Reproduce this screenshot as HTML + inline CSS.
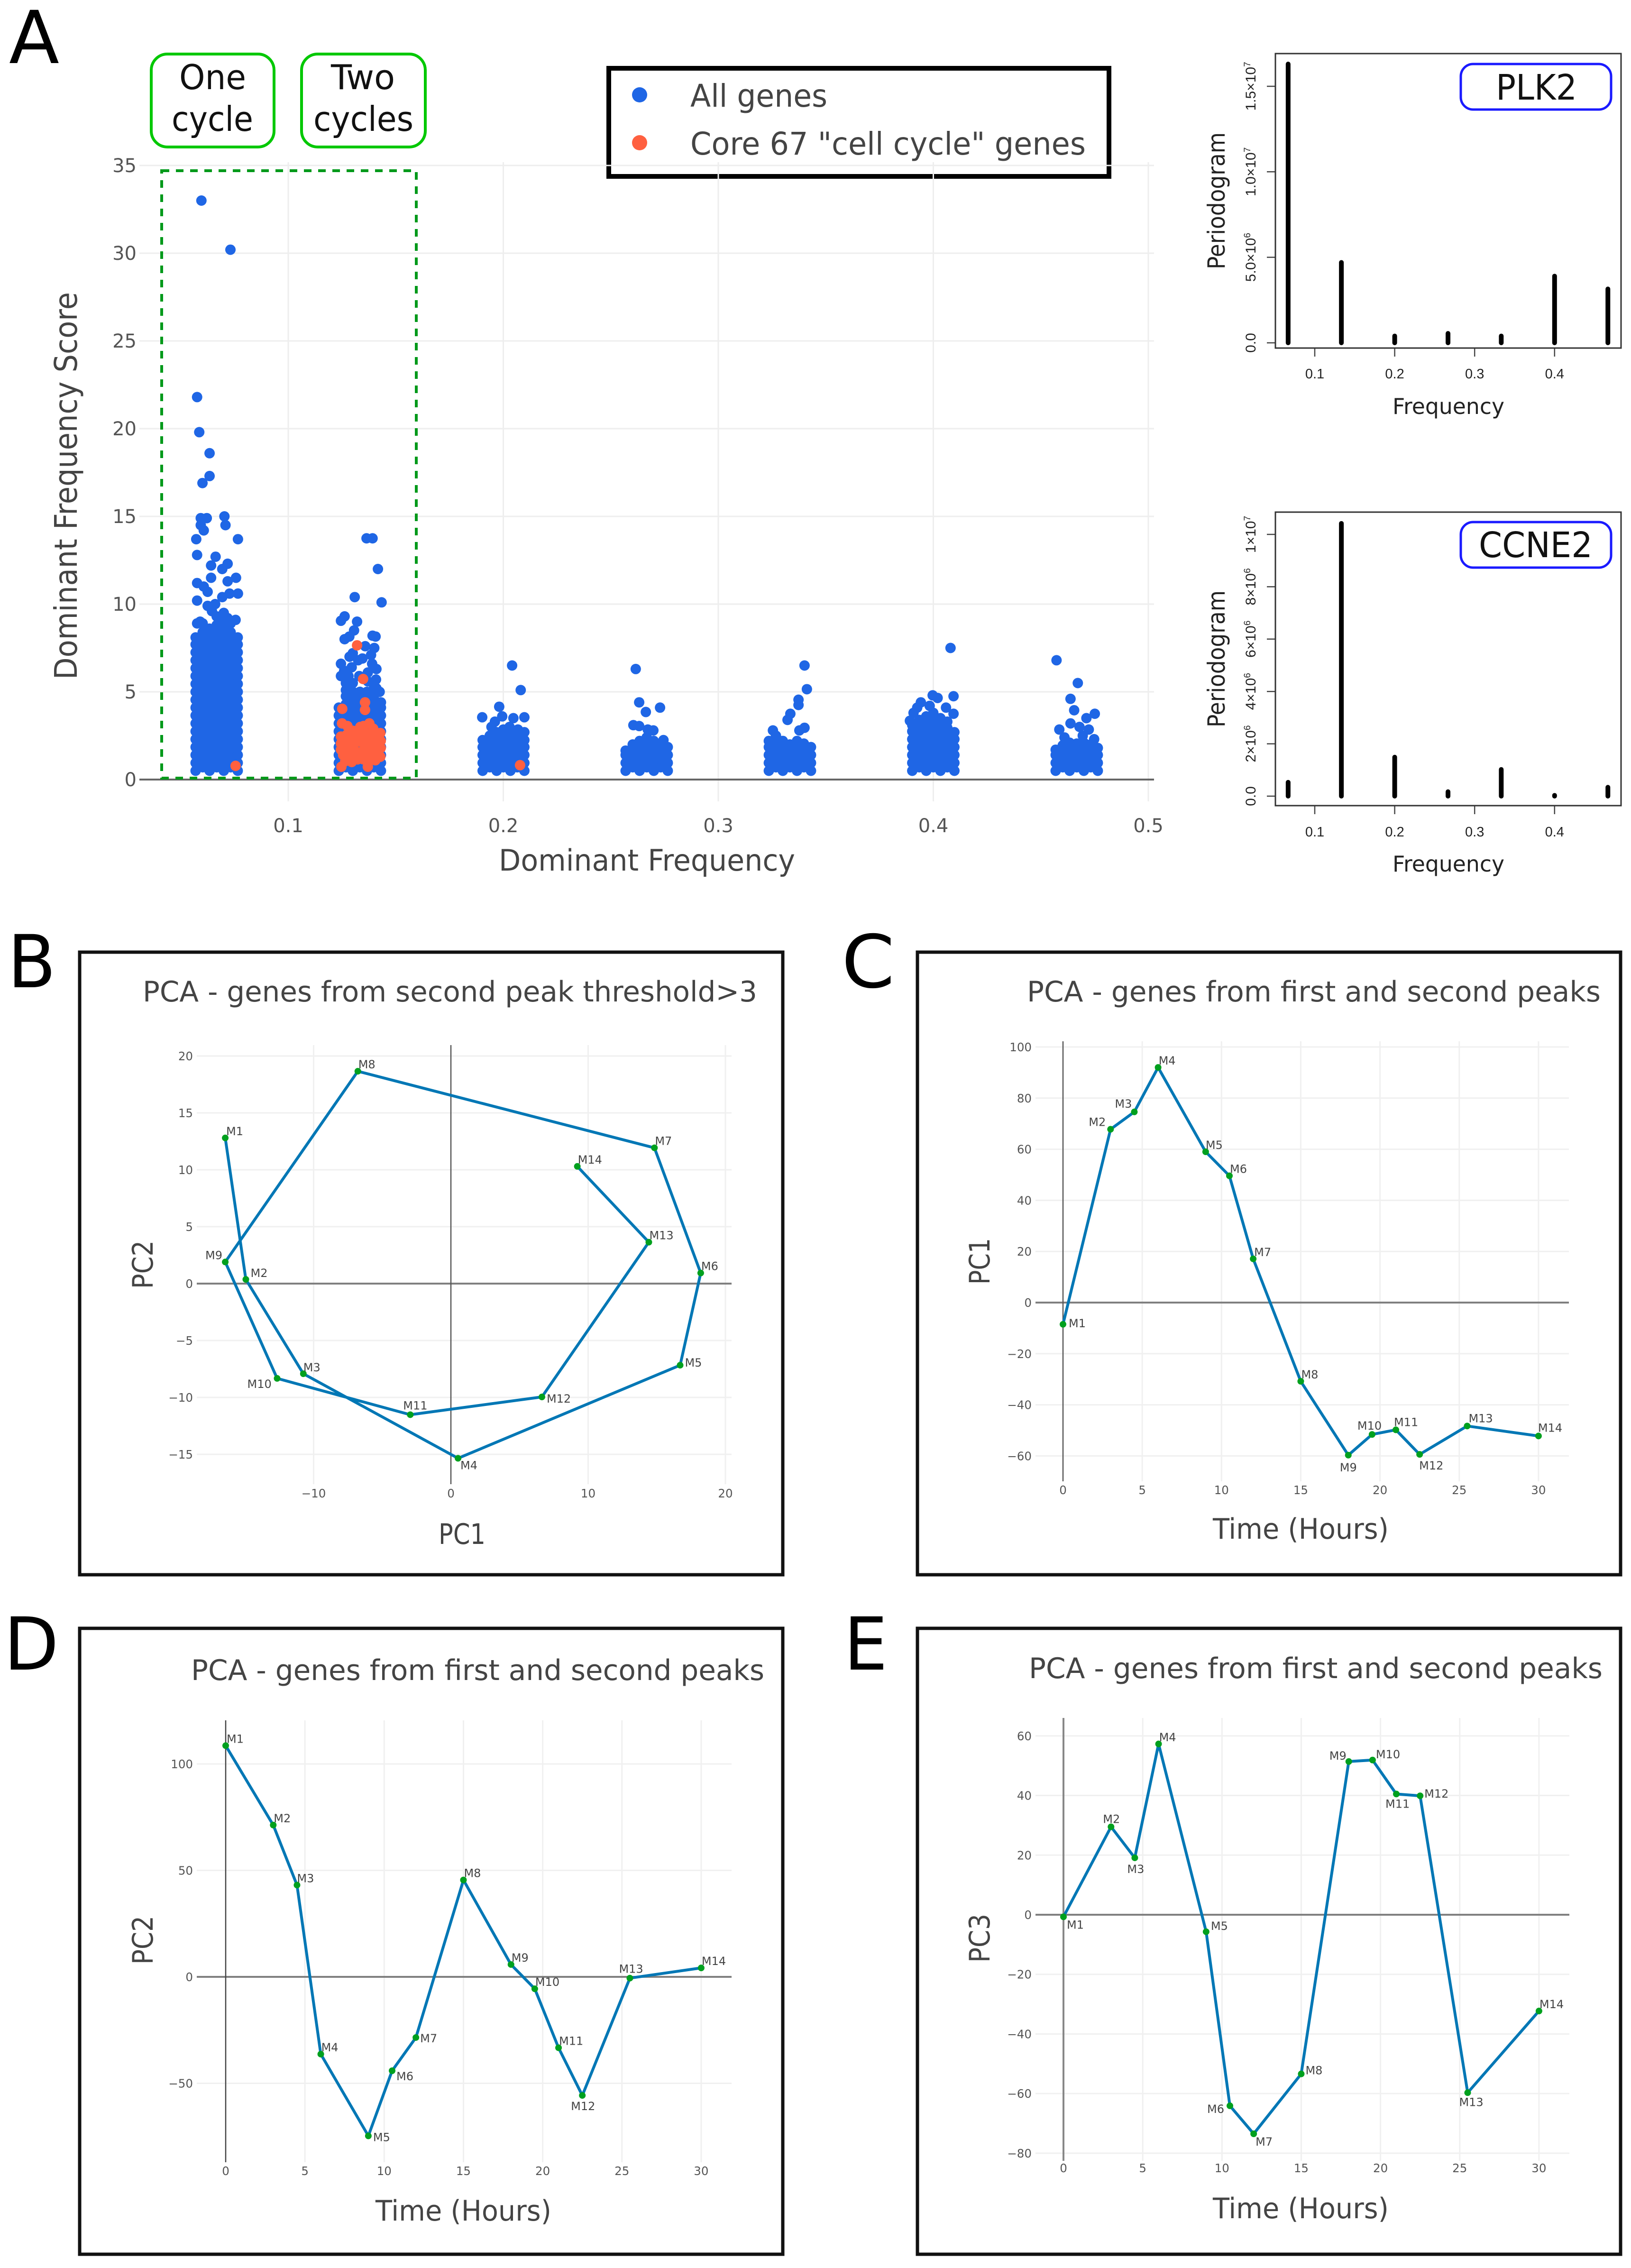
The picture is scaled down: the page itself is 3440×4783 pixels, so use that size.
<!DOCTYPE html>
<html lang="en">
<head>
<meta charset="utf-8">
<title>Dominant frequency and PCA figure</title>
<style>
html,body{margin:0;padding:0;background:#fff;}
svg{display:block;}
text{font-family:"DejaVu Sans","Liberation Sans",sans-serif;}
.tick{font-family:"DejaVu Sans",sans-serif;font-size:24.5px;fill:#555;}
.tick-a{font-family:"DejaVu Sans",sans-serif;font-size:40px;fill:#555;}
.pt{font-family:"DejaVu Sans",sans-serif;font-size:24px;fill:#444;}
.rtick{font-family:"Liberation Sans",sans-serif;font-size:30px;fill:#222;}
.ptick{font-family:"Liberation Sans",sans-serif;font-size:29px;fill:#222;}
.title{font-size:60px;fill:#444;}
.axt{font-size:60px;fill:#444;}
.letter{font-size:154px;fill:#000;}
</style>
</head>
<body>
<svg id="fig" xmlns="http://www.w3.org/2000/svg" width="3440" height="4783" viewBox="0 0 3440 4783">
<rect x="0" y="0" width="3440" height="4783" fill="#fff"/>

<!-- PANEL A -->
<text class="letter" x="19" y="133" textLength="106" lengthAdjust="spacingAndGlyphs">A</text>
<g>
<rect x="1284" y="144" width="1055" height="228" fill="#fff" stroke="#000" stroke-width="10"/>
<circle cx="1349" cy="200" r="16" fill="#1f66e5"/>
<text x="1456" y="225" font-size="66" fill="#444" textLength="289" lengthAdjust="spacingAndGlyphs">All genes</text>
<circle cx="1349" cy="301" r="16" fill="#ff6040"/>
<text x="1456" y="326" font-size="66" fill="#444" textLength="834" lengthAdjust="spacingAndGlyphs">Core 67 "cell cycle" genes</text>
</g>
<g id="a-grid"></g>
<g id="a-points"></g>
<rect x="341" y="360" width="537" height="1281" fill="none" stroke="#00991a" stroke-width="6" stroke-dasharray="16 14"/>
<g id="a-ticks"></g>
<text x="1052" y="1836" font-size="62" fill="#444" textLength="625" lengthAdjust="spacingAndGlyphs">Dominant Frequency</text>
<text transform="translate(162,1433) rotate(-90)" font-size="66" fill="#444" textLength="817" lengthAdjust="spacingAndGlyphs">Dominant Frequency Score</text>

<g>
<rect x="319" y="114" width="259" height="196" rx="34" fill="#fff" stroke="#00c800" stroke-width="6"/>
<text x="378" y="188" font-size="72" fill="#111" textLength="141" lengthAdjust="spacingAndGlyphs">One</text>
<text x="362" y="276" font-size="72" fill="#111" textLength="172" lengthAdjust="spacingAndGlyphs">cycle</text>
</g>
<g>
<rect x="636" y="114" width="261" height="196" rx="34" fill="#fff" stroke="#00c800" stroke-width="6"/>
<text x="698" y="188" font-size="72" fill="#111" textLength="135" lengthAdjust="spacingAndGlyphs">Two</text>
<text x="661" y="276" font-size="72" fill="#111" textLength="211" lengthAdjust="spacingAndGlyphs">cycles</text>
</g>

<!-- PERIODOGRAMS -->
<g id="plk2"></g>
<g id="ccne2"></g>
<rect x="2690" y="113" width="729" height="621" fill="none" stroke="#333" stroke-width="3"/>
<rect x="2690" y="1080" width="729" height="619" fill="none" stroke="#333" stroke-width="3"/>
<g>
<rect x="3081" y="135" width="317" height="96" rx="26" fill="#fff" stroke="#1a1aff" stroke-width="5"/>
<text x="3155" y="210" font-size="74" fill="#111" textLength="171" lengthAdjust="spacingAndGlyphs">PLK2</text>
</g>
<g>
<rect x="3081" y="1101" width="317" height="96" rx="26" fill="#fff" stroke="#1a1aff" stroke-width="5"/>
<text x="3119" y="1175" font-size="74" fill="#111" textLength="240" lengthAdjust="spacingAndGlyphs">CCNE2</text>
</g>
<text x="2937" y="873" font-size="46" fill="#222" textLength="236" lengthAdjust="spacingAndGlyphs">Frequency</text>
<text transform="translate(2583,568) rotate(-90)" font-size="50" fill="#222" textLength="289" lengthAdjust="spacingAndGlyphs">Periodogram</text>
<text x="2937" y="1838" font-size="46" fill="#222" textLength="236" lengthAdjust="spacingAndGlyphs">Frequency</text>
<text transform="translate(2583,1534) rotate(-90)" font-size="50" fill="#222" textLength="289" lengthAdjust="spacingAndGlyphs">Periodogram</text>

<!-- PANEL B -->
<text class="letter" x="16" y="2082" textLength="102" lengthAdjust="spacingAndGlyphs">B</text>
<rect x="168" y="2008" width="1483" height="1313" fill="#fff" stroke="#111" stroke-width="7"/>
<text class="title" x="301" y="2112" textLength="1296" lengthAdjust="spacingAndGlyphs">PCA - genes from second peak threshold&gt;3</text>
<g id="panel-b"></g>
<text class="axt" x="925" y="3256" textLength="99" lengthAdjust="spacingAndGlyphs">PC1</text>
<text class="axt" transform="translate(322,2718) rotate(-90)" textLength="102" lengthAdjust="spacingAndGlyphs">PC2</text>

<!-- PANEL C -->
<text class="letter" x="1775" y="2082" textLength="112" lengthAdjust="spacingAndGlyphs">C</text>
<rect x="1935" y="2008" width="1483" height="1313" fill="#fff" stroke="#111" stroke-width="7"/>
<text class="title" x="2166" y="2112" textLength="1210" lengthAdjust="spacingAndGlyphs">PCA - genes from first and second peaks</text>
<g id="panel-c"></g>
<text class="axt" x="2558" y="3245" textLength="371" lengthAdjust="spacingAndGlyphs">Time (Hours)</text>
<text class="axt" transform="translate(2087,2709) rotate(-90)" textLength="98" lengthAdjust="spacingAndGlyphs">PC1</text>

<!-- PANEL D -->
<text class="letter" x="8" y="3521" textLength="116" lengthAdjust="spacingAndGlyphs">D</text>
<rect x="168" y="3434" width="1483" height="1320" fill="#fff" stroke="#111" stroke-width="7"/>
<text class="title" x="403" y="3543" textLength="1209" lengthAdjust="spacingAndGlyphs">PCA - genes from first and second peaks</text>
<g id="panel-d"></g>
<text class="axt" x="792" y="4683" textLength="371" lengthAdjust="spacingAndGlyphs">Time (Hours)</text>
<text class="axt" transform="translate(322,4143) rotate(-90)" textLength="103" lengthAdjust="spacingAndGlyphs">PC2</text>

<!-- PANEL E -->
<text class="letter" x="1780" y="3521" textLength="92" lengthAdjust="spacingAndGlyphs">E</text>
<rect x="1935" y="3434" width="1483" height="1320" fill="#fff" stroke="#111" stroke-width="7"/>
<text class="title" x="2170" y="3539" textLength="1210" lengthAdjust="spacingAndGlyphs">PCA - genes from first and second peaks</text>
<g id="panel-e"></g>
<text class="axt" x="2558" y="4678" textLength="371" lengthAdjust="spacingAndGlyphs">Time (Hours)</text>
<text class="axt" transform="translate(2087,4139) rotate(-90)" textLength="103" lengthAdjust="spacingAndGlyphs">PC3</text>
</svg>

<script>
/* ---------- Panel A data ---------- */
const scatterXTicks = [0.1, 0.2, 0.3, 0.4, 0.5];
const scatterYTicks = [0, 5, 10, 15, 20, 25, 30, 35];

const peak1Columns = [.0569, .0602, .0634, .0667, .0700, .0732, .0765];
const peak1Scores = [
  [.5,.95,1.4,1.85,2.3,2.75,3.2,3.65,4.1,4.55,5,5.45,5.9,6.35,6.8,7.25,7.7,8.1],
  [.7,1.15,1.6,2.05,2.5,2.95,3.4,3.85,4.3,4.75,5.2,5.65,6.1,6.55,7,7.45,7.9,8.4,8.9],
  [.5,.95,1.4,1.85,2.3,2.75,3.2,3.65,4.1,4.55,5,5.45,5.9,6.35,6.8,7.25,7.7,8.15,8.6],
  [.7,1.15,1.6,2.05,2.5,2.95,3.4,3.85,4.3,4.75,5.2,5.65,6.1,6.55,7,7.45,7.9,8.35,8.8,9.3],
  [.5,.95,1.4,1.85,2.3,2.75,3.2,3.65,4.1,4.55,5,5.45,5.9,6.35,6.8,7.25,7.7,8.15,8.6,9.0],
  [.7,1.15,1.6,2.05,2.5,2.95,3.4,3.85,4.3,4.75,5.2,5.65,6.1,6.55,7,7.45,7.9,8.4,8.9],
  [.5,.95,1.4,1.85,2.3,2.75,3.2,3.65,4.1,4.55,5,5.45,5.9,6.35,6.8,7.25,7.7,8.1]
];
const peak1Outliers = [[.0596,33.0],[.0731,30.2],[.0576,21.8],[.0586,19.8],[.0634,18.6],[.0634,17.3],[.0601,16.9],[.0703,15.0],[.0593,14.9],[.0621,14.9],[.0708,14.5],[.0593,14.5],[.0607,14.2],[.0572,13.7],[.0766,13.7],[.0576,12.8],[.0662,12.7],[.0641,12.2],[.0718,12.3],[.0693,12.0],[.0757,11.5],[.0641,11.5],[.0718,11.3],[.0576,11.2],[.0607,11.0],[.0625,10.7],[.0727,10.6],[.0766,10.6],[.0576,10.2],[.066,10.0],[.0693,10.4],[.0625,9.9],[.0645,9.6],[.0700,9.5],[.0718,9.2],[.0576,8.9],[.0590,9.0],[.0755,9.1]];

const peak2Columns = [.1235, .1268, .1300, .1333, .1366, .1398, .1431];
const peak2Scores = [
  [.5,.95,1.4,1.85,2.3,2.75,3.2,3.65,4.1],
  [.7,1.15,1.6,2.05,2.5,2.95,3.4,3.85,4.3,4.75,5.1,5.5],
  [.5,.95,1.4,1.85,2.3,2.75,3.2,3.65,4.1,4.55,5],
  [.7,1.15,1.6,2.05,2.5,2.95,3.4,3.85,4.3,4.75,5],
  [.5,.95,1.4,1.85,2.3,2.75,3.2,3.65,4.1,4.55,5],
  [.7,1.15,1.6,2.05,2.5,2.95,3.4,3.85,4.3,4.75,5.2],
  [.5,.95,1.4,1.85,2.3,2.75,3.2,3.65,4.1,4.4]
];
const peak2Outliers = [[.1364,13.75],[.1392,13.75],[.1417,12.0],[.1309,10.4],[.1434,10.1],[.1262,9.3],[.1245,9.05],[.1320,9.0],[.1306,8.5],[.1284,8.15],[.1262,8.0],[.1392,8.2],[.1406,8.15],[.1358,7.6],[.1400,7.5],[.1385,7.1],[.1285,7.0],[.1300,7.2],[.1325,6.8],[.1345,6.9],[.1245,6.6],[.1260,6.2],[.1295,6.4],[.1330,5.9],[.1390,6.6],[.1410,6.3],[.1408,5.7],[.1245,5.9],[.1370,5.6],[.1300,5.5],[.1410,5.2],[.1425,5.0],[.1370,6.1],[.1280,5.9]];

const peak3Columns = [.1904, .1937, .1969, .2000, .2033, .2065, .2098];
const peak3Scores = [
  [.5,.95,1.4,1.85,2.25],
  [.7,1.15,1.6,2.05,2.5],
  [.5,.95,1.4,1.85,2.3,2.7],
  [.7,1.15,1.6,2.05,2.5,2.85],
  [.5,.95,1.4,1.85,2.3,2.7],
  [.7,1.15,1.6,2.05,2.45],
  [.5,.95,1.4,1.85,2.25]
];
const peak3Outliers = [[.2041,6.5],[.2081,5.1],[.1981,4.15],[.1902,3.55],[.2047,3.5],[.2098,3.55],[.1995,3.6],[.1961,3.3],[.2029,3.0],[.1945,3.0],[.2068,2.85],[.2098,2.7]];

const peak4Columns = [.2569, .2602, .2634, .2667, .2700, .2732, .2765];
const peak4Scores = [
  [.5,.95,1.4,1.65],
  [.7,1.15,1.6,2.0],
  [.5,.95,1.4,1.85,2.2],
  [.7,1.15,1.6,2.05,2.4],
  [.5,.95,1.4,1.85,2.2],
  [.7,1.15,1.6,2.05],
  [.5,.95,1.4,1.85]
];
const peak4Outliers = [[.2616,6.3],[.2632,4.4],[.2729,4.1],[.2663,3.85],[.2605,3.1],[.2632,3.05],[.2672,2.85],[.2698,2.8],[.2745,2.25]];

const peak5Columns = [.3235, .3268, .3300, .3333, .3366, .3398, .3431];
const peak5Scores = [
  [.5,.95,1.4,1.85,2.2],
  [.7,1.15,1.6,2.05,2.5],
  [.5,.95,1.4,1.85,2.2],
  [.7,1.15,1.6,2.0],
  [.5,.95,1.4,1.85,2.2],
  [.7,1.15,1.6,2.05],
  [.5,.95,1.4,1.85]
];
const peak5Outliers = [[.3401,6.5],[.3412,5.15],[.3373,4.55],[.3373,4.25],[.3335,3.75],[.3322,3.4],[.3401,2.95],[.3377,2.8],[.3254,2.8]];

const peak6Columns = [.3902, .3935, .3967, .4000, .4033, .4065, .4098];
const peak6Scores = [
  [.5,.95,1.4,1.85,2.3,2.75,3.1],
  [.7,1.15,1.6,2.05,2.5,2.95,3.4],
  [.5,.95,1.4,1.85,2.3,2.75,3.2,3.6],
  [.7,1.15,1.6,2.05,2.5,2.95,3.4,3.8],
  [.5,.95,1.4,1.85,2.3,2.75,3.2,3.5],
  [.7,1.15,1.6,2.05,2.5,2.95,3.3],
  [.5,.95,1.4,1.85,2.3,2.7]
];
const peak6Outliers = [[.4080,7.5],[.3997,4.8],[.4094,4.75],[.4020,4.65],[.3942,4.4],[.3983,4.2],[.3925,4.1],[.4059,4.1],[.4094,3.75],[.3891,3.35],[.3908,3.8],[.4000,3.65]];

const peak7Columns = [.4569, .4602, .4634, .4667, .4700, .4732, .4765];
const peak7Scores = [
  [.5,.95,1.4,1.7],
  [.7,1.15,1.6,1.95],
  [.5,.95,1.4,1.85,2.1],
  [.7,1.15,1.6,2.05],
  [.5,.95,1.4,1.85,2.1],
  [.7,1.15,1.6,2.0],
  [.5,.95,1.4,1.8]
];
const peak7Outliers = [[.4573,6.8],[.4672,5.5],[.4638,4.6],[.4655,3.95],[.4751,3.75],[.4712,3.5],[.4638,3.2],[.4680,3.0],[.4723,2.85],[.4586,2.85],[.4610,2.4],[.4748,2.3],[.4695,2.5]];

const coreGenes = [[.0755,.78],[.2078,.82],[.1320,7.65],[.1348,5.73],[.1357,4.4],[.1357,3.97],[.1251,4.03],[.1247,.73],[.1370,.73],
  [.1250,3.2],[.1275,3.05],[.1300,2.78],[.1335,3.0],[.1350,3.05],[.1377,3.2],[.1395,2.9],
  [.1245,2.45],[.1272,2.55],[.1325,2.6],[.1352,2.6],[.1378,2.6],[.1402,2.6],[.1428,2.65],
  [.1245,2.05],[.1272,2.15],[.1300,2.2],[.1329,2.17],[.1355,2.2],[.1380,2.2],[.1405,2.2],[.1430,2.2],
  [.1245,1.7],[.1272,1.8],[.1303,1.85],[.1355,1.85],[.1380,1.8],[.1405,1.8],[.1430,1.8],
  [.1255,1.4],[.1280,1.45],[.1307,1.5],[.1329,1.55],[.1355,1.5],[.1380,1.45],[.1405,1.45],[.1428,1.3],
  [.1265,1.05],[.1295,1.0],[.1322,1.15],[.1350,1.15],[.1375,1.05],[.1405,1.1]];

/* ---------- Periodogram data ---------- */
const periodFreqs = [.0667, .1333, .2, .2667, .3333, .4, .4667];
const plk2Power = [16.3e6, 4.7e6, .4e6, .55e6, .4e6, 3.9e6, 3.15e6];
const ccne2Power = [.53e6, 10.42e6, 1.49e6, .17e6, 1.02e6, .03e6, .34e6];
const periodXTicks = [0.1, 0.2, 0.3, 0.4];
const plk2YTicks = [0, 5e6, 10e6, 15e6];
const plk2YLabels = [["0.0",""],["5.0×10","6"],["1.0×10","7"],["1.5×10","7"]];
const ccne2YTicks = [0, 2e6, 4e6, 6e6, 8e6, 10e6];
const ccne2YLabels = [["0.0",""],["2×10","6"],["4×10","6"],["6×10","6"],["8×10","6"],["1×10","7"]];

/* ---------- PCA data ---------- */
const sampleNames = ["M1","M2","M3","M4","M5","M6","M7","M8","M9","M10","M11","M12","M13","M14"];
const timeHours = [0, 3, 4.5, 6, 9, 10.5, 12, 15, 18, 19.5, 21, 22.5, 25.5, 30];
const timeTicks = [0, 5, 10, 15, 20, 25, 30];

const panelBPc1 = [-16.44, -14.94, -10.75, .52, 16.7, 18.2, 14.83, -6.78, -16.44, -12.66, -2.96, 6.63, 14.42, 9.21];
const panelBPc2 = [12.8, .37, -7.92, -15.35, -7.17, .93, 11.93, 18.66, 1.9, -8.33, -11.52, -9.96, 3.64, 10.3];
const panelBXTicks = [-10, 0, 10, 20];
const panelBYTicks = [-15, -10, -5, 0, 5, 10, 15, 20];

const panelCPc1 = [-8.5, 67.8, 74.6, 92, 59, 49.6, 17.1, -30.8, -59.7, -51.6, -49.8, -59.4, -48.3, -52.2];
const panelCYTicks = [-60, -40, -20, 0, 20, 40, 60, 80, 100];

const panelDPc2 = [108.6, 71.3, 43.1, -36.3, -74.7, -44.1, -28.5, 45.5, 5.8, -5.6, -33.3, -55.7, -.6, 4.2];
const panelDYTicks = [-50, 0, 50, 100];

const panelEPc3 = [-.7, 29.5, 19.1, 57.3, -5.7, -64.1, -73.5, -53.4, 51.4, 51.9, 40.5, 39.9, -59.7, -32.3];
const panelEYTicks = [-80, -60, -40, -20, 0, 20, 40, 60];

/* ---------- Label nudges relative to each marker (layout only) ---------- */
const panelBNudge = [[2,-6],[10,-5],[0,-5],[5,23],[10,3],[1,-6],[1,-6],[1,-6],[-42,-6],[-63,20],[-15,-11],[10,12],[1,-6],[1,-6]];
const panelCNudge = [[12,6],[-46,-7],[-41,-9],[1,-6],[0,-6],[1,-6],[2,-6],[1,-6],[-18,34],[-31,-10],[-4,-8],[-1,32],[3,-8],[-1,-9]];
const panelDNudge = [[2,-6],[1,-6],[0,-6],[1,-6],[10,11],[9,20],[9,10],[1,-6],[1,-6],[1,-6],[1,-6],[-24,31],[-23,-11],[1,-6]];
const panelENudge = [[7,25],[-17,-8],[-16,32],[1,-6],[10,-4],[-48,15],[4,25],[9,1],[-41,-4],[7,-4],[-23,29],[9,4],[-18,28],[1,-6]];

/* ---------- Helpers ---------- */
const SVGNS = "http://www.w3.org/2000/svg";
function make(tag, attrs, parent, txt) {
  const n = document.createElementNS(SVGNS, tag);
  for (const k in attrs) n.setAttribute(k, attrs[k]);
  if (txt !== undefined) n.textContent = txt;
  parent.appendChild(n);
  return n;
}
function linear(origin, pxPerUnit) { return v => origin + v * pxPerUnit; }
function fmt(v) { return (v < 0 ? "\u2212" : "") + Math.abs(v); }

/* ---------- Panel A ---------- */
const ax = v => 608 + (v - 0.1) * 4535;
const ay = linear(1644, -37);
const aGrid = document.getElementById("a-grid");
const aTicks = document.getElementById("a-ticks");
const aPoints = document.getElementById("a-points");

scatterYTicks.forEach(t => {
  if (t !== 0) {
    const g = make("line", {x1:294, x2:2434, y1:ay(t), y2:ay(t), stroke:"#eee", "stroke-width":3}, aGrid);
    
    
  }
  const l = make("text", {class:"tick-a", x:288, y:ay(t)+14, "text-anchor":"end"}, aTicks, String(t));
  
  
});
scatterXTicks.forEach(t => {
  const g = make("line", {x1:ax(t), x2:ax(t), y1:342, y2:1690, stroke:"#eee", "stroke-width":3}, aGrid);
  
  
  const l = make("text", {class:"tick-a", x:ax(t), y:1755, "text-anchor":"middle"}, aTicks, t.toFixed(1));
  
  
});
const aZero = make("line", {x1:294, x2:2434, y1:ay(0), y2:ay(0), stroke:"#666", "stroke-width":4}, aGrid);



function genePoint(f, s, fill, r, name) {
  const c = make("circle", {cx:ax(f), cy:ay(s), r:r, fill:fill}, aPoints);
  
  
}
[[peak1Columns, peak1Scores, peak1Outliers],
 [peak2Columns, peak2Scores, peak2Outliers],
 [peak3Columns, peak3Scores, peak3Outliers],
 [peak4Columns, peak4Scores, peak4Outliers],
 [peak5Columns, peak5Scores, peak5Outliers],
 [peak6Columns, peak6Scores, peak6Outliers],
 [peak7Columns, peak7Scores, peak7Outliers]].forEach(([cols, scores, outliers]) => {
  cols.forEach((f, i) => scores[i].forEach(s => genePoint(f, s, "#1f66e5", 11, "gene-point")));
  outliers.forEach(p => genePoint(p[0], p[1], "#1f66e5", 11, "gene-point"));
});
coreGenes.forEach(p => genePoint(p[0], p[1], "#ff6040", 11, "core-gene-point"));

/* ---------- Periodograms ---------- */
const px = v => 2773 + (v - 0.1) * 1686;
function periodogram(id, power, yFn, yTicks, yLabels, tickTop, tickLabelY, name) {
  const root = document.getElementById(id);
  const yAxis = make("line", {x1:2672, x2:2672, y1:yFn(yTicks[yTicks.length-1]), y2:yFn(0), stroke:"#fff", "stroke-width":0}, root);
  
  
  yTicks.forEach((t, i) => {
    const m = make("line", {x1:2672, x2:2690, y1:yFn(t), y2:yFn(t), stroke:"#444", "stroke-width":2.5}, root);
    
    
    const l = make("text", {class:"rtick", "text-anchor":"middle", transform:"translate(2648," + yFn(t) + ") rotate(-90)"}, root);
    
    
    make("tspan", {}, l, yLabels[i][0]);
    if (yLabels[i][1]) make("tspan", {dy:-11, "font-size":19}, l, yLabels[i][1]);
  });
  periodXTicks.forEach(t => {
    const m = make("line", {x1:px(t), x2:px(t), y1:tickTop, y2:tickTop+18, stroke:"#444", "stroke-width":2.5}, root);
    
    
    const l = make("text", {class:"ptick", x:px(t), y:tickLabelY, "text-anchor":"middle"}, root, t.toFixed(1));
    
    
  });
  periodFreqs.forEach((f, i) => {
    const b = make("line", {x1:px(f), x2:px(f), y1:yFn(0), y2:yFn(power[i]), stroke:"#000", "stroke-width":10, "stroke-linecap":"round"}, root);
    
    
  });
}
periodogram("plk2", plk2Power, v => 723 - v * 36.07e-6, plk2YTicks, plk2YLabels, 734, 798, "plk2");
periodogram("ccne2", ccne2Power, v => 1679 - v * 55.2e-6, ccne2YTicks, ccne2YLabels, 1699, 1764, "ccne2");

/* ---------- PCA line panels ---------- */
function pcaPanel(id, xs, ys, xTicks, yTicks, nudge, c) {
  const root = document.getElementById(id);
  const x = linear(c.x0, c.xs);
  const y = linear(c.y0, -c.ys);
  yTicks.forEach(t => {
    if (t !== 0) {
      const g = make("line", {x1:c.left, x2:c.right, y1:y(t), y2:y(t), stroke:"#f0f0f0", "stroke-width":3}, root);
      
      
    }
    const l = make("text", {class:"tick", x:c.left-8, y:y(t)+9, "text-anchor":"end"}, root, fmt(t));
    
    
  });
  xTicks.forEach(t => {
    if (t !== 0) {
      const g = make("line", {x1:x(t), x2:x(t), y1:c.top, y2:c.bottom, stroke:"#f0f0f0", "stroke-width":3}, root);
      
      
    }
    const l = make("text", {class:"tick", x:x(t), y:c.tickY, "text-anchor":"middle"}, root, fmt(t));
    
    
  });
  const hz = make("line", {x1:c.left, x2:c.right, y1:y(0), y2:y(0), stroke:"#808080", "stroke-width":4}, root);
  
  
  const vt = make("line", {x1:x(0), x2:x(0), y1:c.top, y2:c.bottom, stroke:c.vColor, "stroke-width":c.vWidth}, root);
  
  
  const pts = xs.map((v, i) => x(v).toFixed(1) + "," + y(ys[i]).toFixed(1)).join(" ");
  const line = make("polyline", {points:pts, fill:"none", stroke:"#0077b5", "stroke-width":6, "stroke-linejoin":"round"}, root);
  
  
  xs.forEach((v, i) => {
    const m = make("circle", {cx:x(v), cy:y(ys[i]), r:7, fill:"#00a01e"}, root);
    
    
    const l = make("text", {class:"pt", x:x(v)+nudge[i][0], y:y(ys[i])+nudge[i][1]}, root, sampleNames[i]);
    
    
  });
}
pcaPanel("panel-b", panelBPc1, panelBPc2, panelBXTicks, panelBYTicks, panelBNudge,
  {x0:951, xs:28.95, y0:2707, ys:24, left:415, right:1543, top:2204, bottom:3130, tickY:3158, vColor:"#555", vWidth:2.5});
pcaPanel("panel-c", timeHours, panelCPc1, timeTicks, panelCYTicks, panelCNudge,
  {x0:2242, xs:33.43, y0:2747, ys:5.39, left:2184, right:3309, top:2196, bottom:3124, tickY:3151, vColor:"#555", vWidth:2.5});
pcaPanel("panel-d", timeHours, panelDPc2, timeTicks, panelDYTicks, panelDNudge,
  {x0:476, xs:33.43, y0:4169, ys:4.49, left:415, right:1543, top:3628, bottom:4560, tickY:4587, vColor:"#444", vWidth:2.5});
pcaPanel("panel-e", timeHours, panelEPc3, timeTicks, panelEYTicks, panelENudge,
  {x0:2243, xs:33.43, y0:4038, ys:6.286, left:2184, right:3310, top:3623, bottom:4557, tickY:4581, vColor:"#888", vWidth:4});
</script>
</body>
</html>
